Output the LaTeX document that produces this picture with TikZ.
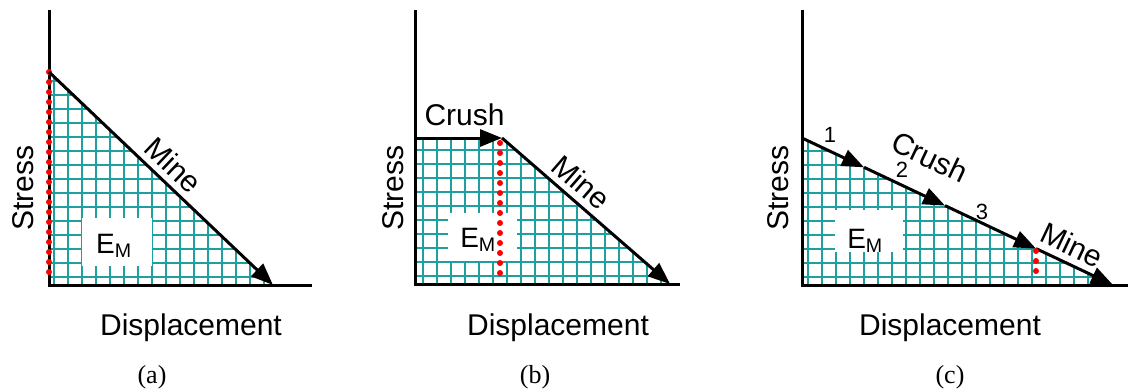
\documentclass[tikz,border=0pt]{standalone}
\usepackage{fontspec}
\setmainfont{Liberation Sans}
\newfontfamily\capfont{Liberation Serif}
\usetikzlibrary{arrows.meta}
\definecolor{gridteal}{RGB}{30,160,160}

\begin{document}
\begin{tikzpicture}[x=1pt, y=-1pt, axis/.style={line width=3pt}, curve/.style={line width=3pt, -{Triangle[length=22pt,width=17pt]}}, gridline/.style={gridteal, line width=1.5pt}, reddots/.style={red, line width=6pt, line cap=round, dash pattern=on 0pt off 10pt}, lbl/.style={font=\fontsize{30}{36}\selectfont, inner sep=0pt}, num/.style={font=\fontsize{22}{26}\selectfont, inner sep=0pt}, caption/.style={font=\capfont\fontsize{26}{30}\selectfont, inner sep=0pt, anchor=base}, emlbl/.style={font=\fontsize{28}{34}\selectfont, inner sep=0pt, anchor=base}]

\useasboundingbox (0,0) rectangle (1135,391);

% (a) mine only
\coordinate (aO) at (49,285);
\coordinate (aTop) at (49,10);
\coordinate (aEnd) at (312,285);
\coordinate (aPeak) at (49,72);
\coordinate (aTip) at (273,285);
\begin{scope}
\clip (aPeak) -- (aTip) -- (aO) -- cycle;
\foreach \x in {54,68,...,280} \draw[gridline] (\x,60) -- (\x,285);
\foreach \y in {277,263,...,60} \draw[gridline] (49,\y) -- (280,\y);
\end{scope}
\fill[white] (82,218) rectangle (152,266);
\node[emlbl] (aEM) at (114,253) {E\textsubscript{M}};
\draw[axis] (aTop) -- (aO) -- (aEnd);
\draw[reddots] (aPeak) -- (49,280);
\draw[curve] (aPeak) -- node[lbl, sloped, above=6pt, pos=.5] (aMine) {Mine} (aTip);
\node[lbl, rotate=90, anchor=base] (aStress) at (33,188) {Stress};
\node[lbl, anchor=base] (aDisp) at (191,335) {Displacement};
\node[caption] (aCap) at (152,383) {(a)};

% (b) crush then mine
\coordinate (bO) at (415,284);
\coordinate (bTop) at (415,10);
\coordinate (bEnd) at (680,284);
\coordinate (bStart) at (415,138);
\coordinate (bBend) at (502,138);
\coordinate (bTip) at (670,284);
\begin{scope}
\clip (bStart) -- (bBend) -- (bTip) -- (bO) -- cycle;
\foreach \x in {423,437,...,680} \draw[gridline] (\x,130) -- (\x,284);
\foreach \y in {276,262,...,130} \draw[gridline] (415,\y) -- (680,\y);
\end{scope}
\fill[white] (448,213) rectangle (517,261);
\node[emlbl] (bEM) at (478,247) {E\textsubscript{M}};
\draw[axis] (bTop) -- (bO) -- (bEnd);
\draw[curve] (bStart) -- node[lbl, above=11pt, pos=.57] (bCrush) {Crush} (bBend);
\draw[curve] (bBend) -- node[lbl, sloped, above=6pt, pos=.4] (bMine) {Mine} (bTip);
\draw[reddots] (500,143) -- (500,276);
\node[lbl, rotate=90, anchor=base] (bStress) at (403,188) {Stress};
\node[lbl, anchor=base] (bDisp) at (558,335) {Displacement};
\node[caption] (bCap) at (535,383) {(b)};

% (c) crush in steps, then mine
\coordinate (cO) at (802,285);
\coordinate (cTop) at (802,10);
\coordinate (cEnd) at (1128,285);
\coordinate (cStart) at (802,138);
\coordinate (c1) at (864,167.3);
\coordinate (c2) at (945,205.6);
\coordinate (c3) at (1036,248.6);
\coordinate (cTip) at (1113,285);
\begin{scope}
\clip (cStart) -- (cTip) -- (cO) -- cycle;
\foreach \x in {808,822,...,1120} \draw[gridline] (\x,130) -- (\x,285);
\foreach \y in {277,263,...,130} \draw[gridline] (802,\y) -- (1120,\y);
\end{scope}
\fill[white] (835,210) rectangle (903,252);
\node[emlbl] (cEM) at (865,248) {E\textsubscript{M}};
\draw[axis] (cTop) -- (cO) -- (cEnd);
\draw[curve] (cStart) -- (c1);
\draw[curve] (c1) -- (c2);
\draw[curve] (c2) -- (c3);
\draw[curve] (c3) -- (cTip);
\draw[reddots] (1036,251) -- (1036,281);
\node[num] (cN1) at (830,135) {1};
\node[num] (cN2) at (902,170) {2};
\node[num] (cN3) at (982,212) {3};
\node[lbl, rotate=-25.3] (cCrush) at (930,157) {Crush};
\node[lbl, rotate=-25.3] (cMine) at (1072,245) {Mine};
\node[lbl, rotate=90, anchor=base] (cStress) at (788,188) {Stress};
\node[lbl, anchor=base] (cDisp) at (950,335) {Displacement};
\node[caption] (cCap) at (950,383) {(c)};

\end{tikzpicture}
\end{document}
